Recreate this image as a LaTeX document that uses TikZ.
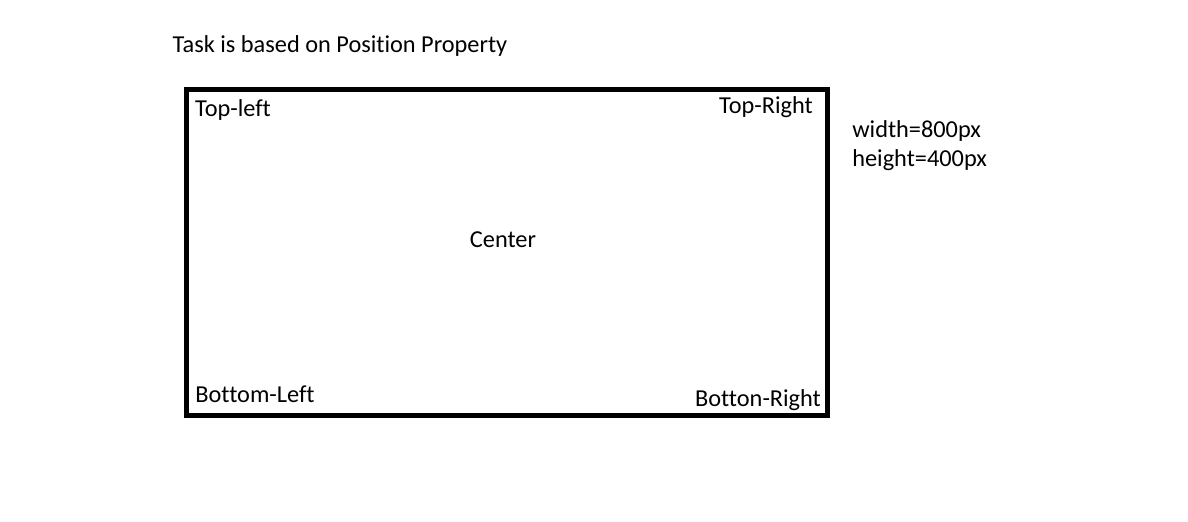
\documentclass[tikz,border=0pt]{standalone}
\usepackage{fontspec}
\setmainfont{Carlito}[Ligatures=CommonOff]
\usetikzlibrary{positioning}

\begin{document}
\begin{tikzpicture}[x=0.025cm,y=-0.025cm,font=\fontsize{17.3pt}{20.6pt}\selectfont,
  frame/.style={draw=black,line width=3.8pt,minimum width=641*0.025cm,
    minimum height=326*0.025cm,inner sep=0pt},
  lbl/.style={inner sep=0pt,anchor=base}]
  \useasboundingbox (0,0) rectangle (1188,521);
  % title and outer frame
  \node[lbl] (title) at (340,52) {Task is based on Position Property};
  \node[frame] (box) at (507,252.5) {};
  % positions inside the frame
  \node[lbl] (tl) at (233,116) {Top-left};
  \node[lbl] (tr) at (766,113) {Top-Right};
  \node[lbl] (ctr) at (503,247) {Center};
  \node[lbl] (bl) at (255,402) {Bottom-Left};
  \node[lbl] (br) at (758,406) {Botton-Right};
  % size note
  \node[lbl,anchor=base west,align=left] (size) at (852,166)
    {width=800px\\height=400px};
\end{tikzpicture}
\end{document}
